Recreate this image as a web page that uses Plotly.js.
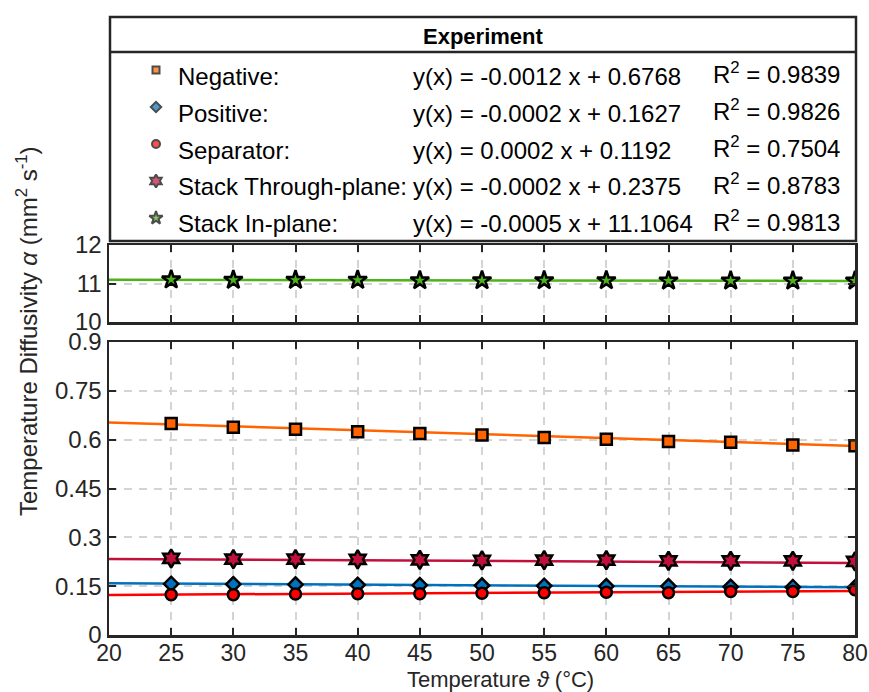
<!DOCTYPE html>
<html><head><meta charset="utf-8">
<script src="https://cdn.plot.ly/plotly-3.0.1.min.js"></script>
<style>body{margin:0;background:#fff}#chart{width:869px;height:692px}</style>
</head><body><div id="chart"></div>
<script>
// ---------- data ----------
const temperature = [25, 30, 35, 40, 45, 50, 55, 60, 65, 70, 75, 80];
const fitX = [20, 80];
const seriesNames = ['Negative:', 'Positive:', 'Separator:', 'Stack Through-plane:', 'Stack In-plane:'];
const fitEquations = ['y(x) = -0.0012 x + 0.6768', 'y(x) = -0.0002 x + 0.1627', 'y(x) = 0.0002 x + 0.1192', 'y(x) = -0.0002 x + 0.2375', 'y(x) = -0.0005 x + 11.1064'];
const rSquared = ['0.9839', '0.9826', '0.7504', '0.8783', '0.9813'];
const negative = [0.650, 0.638, 0.632, 0.624, 0.619, 0.614, 0.607, 0.601, 0.594, 0.592, 0.584, 0.581];
const positive = [0.157, 0.156, 0.155, 0.154, 0.153, 0.152, 0.151, 0.150, 0.150, 0.148, 0.147, 0.146];
const separator = [0.124, 0.124, 0.126, 0.127, 0.127, 0.128, 0.130, 0.131, 0.130, 0.134, 0.134, 0.139];
const stackThrough = [0.235, 0.233, 0.233, 0.232, 0.231, 0.229, 0.230, 0.230, 0.228, 0.228, 0.228, 0.226];
const stackIn = [11.10, 11.09, 11.09, 11.09, 11.08, 11.08, 11.08, 11.08, 11.07, 11.07, 11.07, 11.07];
const negativeFit = [0.6528, 0.5808];
const positiveFit = [0.1587, 0.1467];
const separatorFit = [0.1232, 0.1352];
const stackThroughFit = [0.2335, 0.2215];
const stackInFit = [11.0964, 11.0664];
const xTicks = [20, 25, 30, 35, 40, 45, 50, 55, 60, 65, 70, 75, 80];
const yTicksBottom = [0, 0.15, 0.3, 0.45, 0.6, 0.75, 0.9];
const yTickTextBottom = ['0', '0.15', '0.3', '0.45', '0.6', '0.75', '0.9'];
const yTicksTop = [10, 11, 12];

// ---------- styling ----------
const FONT = '"Liberation Sans", Arial, Helvetica, sans-serif';
const INK = '#262626';
const colors = ['#FF6400', '#0072BD', '#FF0000', '#C0103C', '#4DB21A'];
const symbols = ['square', 'diamond', 'circle', 'hexagram', 'star'];
const values = [negative, positive, separator, stackThrough, stackIn];
const fits = [negativeFit, positiveFit, separatorFit, stackThroughFit, stackInFit];
const axisPair = [['x', 'y'], ['x', 'y'], ['x', 'y'], ['x', 'y'], ['x2', 'y2']];

const L = 109, R = 855, T = 17, B = 635;
const PX = p => (p - L) / (R - L);
const PY = p => (B - p) / (B - T);

const traces = [];
for (let i = 0; i < 5; i++) {
  traces.push({x: fitX, y: fits[i], xaxis: axisPair[i][0], yaxis: axisPair[i][1], mode: 'lines',
    line: {color: colors[i], width: 2.5}, showlegend: false, hoverinfo: 'skip'});
}
for (let i = 0; i < 5; i++) {
  traces.push({x: temperature, y: values[i], xaxis: axisPair[i][0], yaxis: axisPair[i][1], mode: 'markers',
    marker: {symbol: symbols[i], color: colors[i], size: symbols[i] === 'hexagram' || symbols[i] === 'star' ? 14 : 11,
      line: {color: '#000', width: 2.5}}, showlegend: false, name: seriesNames[i]});
}
// legend markers (on hidden legend axis, pixel-like coordinates inside the box)
const rowY = [76, 113, 150, 187, 224];
traces.push({x: seriesNames.map(() => 48), y: rowY.map(v => v - 6 - T), xaxis: 'x3', yaxis: 'y3', mode: 'markers',
  marker: {symbol: symbols, color: colors, size: [7, 8, 8, 10, 10], line: {color: '#000', width: 2}},
  showlegend: false, hoverinfo: 'skip'});

const axBase = {showline: true, linewidth: 2.5, linecolor: INK, mirror: 'ticks', ticks: 'inside', ticklen: 7,
  tickwidth: 2, tickcolor: INK, showgrid: true, gridcolor: '#d4d4d4', gridwidth: 2, griddash: '8px,7px',
  zeroline: false, tickfont: {family: FONT, size: 24, color: INK}};

const annotations = [];
annotations.push({xref: 'paper', yref: 'paper', x: PX(483), y: PY(36), text: '<b>Experiment</b>', showarrow: false,
  xanchor: 'center', yanchor: 'middle', font: {family: FONT, size: 22, color: '#000'}});
for (let i = 0; i < 5; i++) {
  const fnt = {family: FONT, size: 24, color: '#000'};
  annotations.push({xref: 'paper', yref: 'paper', x: PX(176), y: PY(rowY[i]), text: seriesNames[i], showarrow: false, xanchor: 'left', yanchor: 'middle', font: fnt});
  annotations.push({xref: 'paper', yref: 'paper', x: PX(411), y: PY(rowY[i]), text: fitEquations[i], showarrow: false, xanchor: 'left', yanchor: 'middle', font: fnt});
  annotations.push({xref: 'paper', yref: 'paper', x: PX(711), y: PY(rowY[i] - 3), text: 'R<sup>2</sup> = ' + rSquared[i], showarrow: false, xanchor: 'left', yanchor: 'middle', font: fnt});
}
annotations.push({xref: 'paper', yref: 'paper', x: PX(27), y: PY(331), textangle: -90, showarrow: false,
  text: 'Temperature Diffusivity <i>α</i> (mm<sup>2</sup> s<sup>-1</sup>)', xanchor: 'center', yanchor: 'middle',
  font: {family: FONT, size: 24, color: INK}});
annotations.push({xref: 'paper', yref: 'paper', x: PX(500), y: 0, yshift: -(692 - B) - 1, showarrow: false,
  text: 'Temperature <i>ϑ</i> (°C)', xanchor: 'center', yanchor: 'bottom', borderpad: 0, font: {family: FONT, size: 22, color: INK}});

const layout = {
  width: 869, height: 692, paper_bgcolor: '#fff', plot_bgcolor: '#fff',
  margin: {l: L, r: 869 - R, t: T, b: 692 - B},
  font: {family: FONT, color: INK},
  xaxis: Object.assign({}, axBase, {domain: [0, 1], range: [20, 80], anchor: 'y', tickvals: xTicks,
    ticklabelstandoff: -4, tickfont: {family: FONT, size: 23, color: INK}}),
  yaxis: Object.assign({}, axBase, {domain: [0, PY(342)], range: [0, 0.9], anchor: 'x', tickvals: yTicksBottom, ticktext: yTickTextBottom}),
  xaxis2: Object.assign({}, axBase, {domain: [0, 1], range: [20, 80], anchor: 'y2', tickvals: xTicks, showticklabels: false}),
  yaxis2: Object.assign({}, axBase, {domain: [PY(322), PY(245)], range: [10, 12], anchor: 'x2', tickvals: yTicksTop}),
  xaxis3: {domain: [0, 1], range: [1, 747], visible: false, anchor: 'y3', fixedrange: true},
  yaxis3: {domain: [PY(241), 1], range: [224, 0], visible: false, anchor: 'x3', fixedrange: true},
  shapes: [
    {type: 'rect', xref: 'paper', yref: 'paper', x0: PX(110), x1: PX(856), y0: PY(241), y1: 1, line: {color: INK, width: 2.5}},
    {type: 'line', xref: 'paper', yref: 'paper', x0: PX(110), x1: PX(856), y0: PY(52), y1: PY(52), line: {color: INK, width: 2.5}}
  ],
  annotations: annotations,
  showlegend: false
};
Plotly.newPlot('chart', traces, layout, {displayModeBar: false, staticPlot: true});
</script></body></html>
